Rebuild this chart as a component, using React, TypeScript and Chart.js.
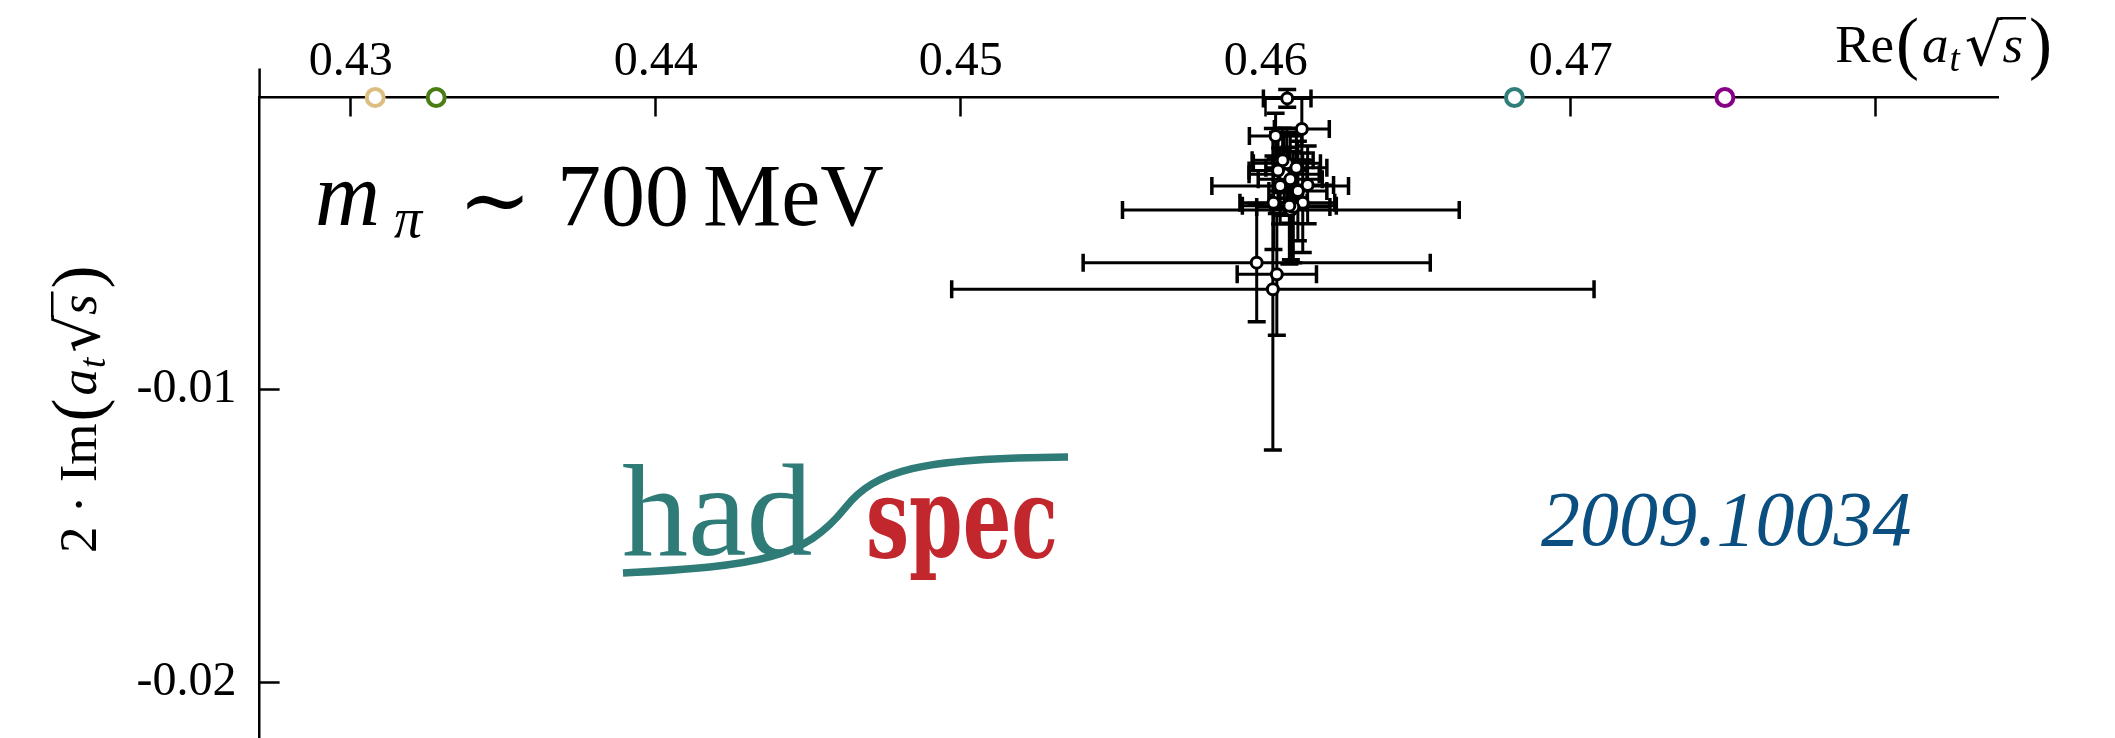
import React, { useEffect, useRef } from "react";
import { Chart, registerables } from "chart.js";

Chart.register(...registerables);

const W = 2115;
const H = 738;

// Finite-volume energy levels: Re and 2·Im of a_t·sqrt(s), with uncertainties
const latticeRe = [
  0.4607, 0.46118, 0.46032, 0.46069, 0.4606, 0.46047, 0.46137, 0.46025, 0.46121, 0.46082,
  0.4609, 0.4597, 0.46036, 0.46023, 0.46055, 0.461, 0.4604, 0.4608, 0.46105, 0.46077,
];
const latticeIm = [
  -0.00003, -0.00108, -0.00132, -0.00225, -0.00263, -0.00303, -0.00299, -0.0036, -0.0036, -0.00385,
  -0.00375, -0.00565, -0.00605, -0.00656, -0.00215, -0.0024, -0.0025, -0.0028, -0.0032, -0.0037,
];
const latticeReErr = [
  0.00078, 0.0009, 0.00086, 0.0011, 0.00115, 0.00224, 0.00085, 0.0011, 0.00105, 0.00552,
  0.0012, 0.00569, 0.0013, 0.01053, 0.001, 0.001, 0.00095, 0.00105, 0.00095, 0.00154,
];
const latticeImErr = [
  0.0003, 0.00106, 0.00078, 0.0012, 0.0014, 0.0013, 0.00133, 0.0016, 0.0017, 0.0017,
  0.0019, 0.00202, 0.00208, 0.0055, 0.0011, 0.0012, 0.0013, 0.0015, 0.0017, 0.002,
];

// Two-hadron thresholds on the real axis
const thresholdRe = [0.4308, 0.4328, 0.46815, 0.47505];
const thresholdColors = ["#dcbe82", "#4a7d14", "#2f7e7a", "#860086"];

const xTickValues = [0.43, 0.44, 0.45, 0.46, 0.47, 0.48];
const xTickLabels = ["0.43", "0.44", "0.45", "0.46", "0.47", ""];
const yTickValues = [-0.02, -0.01];
const yTickLabels = ["-0.02", "-0.01"];

const xMin = 0.42701;
const xMax = 0.48402;
const yMin = -0.021913;
const yMax = 0;

const SERIF = '"Liberation Serif", "DejaVu Serif", serif';

type Run = { t: string; f: string; dy?: number; over?: boolean; gap?: number };

// Draws a sequence of text pieces side by side (simple math typesetting)
function drawRuns(ctx: CanvasRenderingContext2D, runs: Run[], x: number, y: number, measureOnly = false): number {
  let cx = x;
  let radTop = y;
  for (const r of runs) {
    ctx.font = r.f;
    const m = ctx.measureText(r.t);
    const yy = y + (r.dy ?? 0);
    if (r.t === "√") radTop = yy - m.actualBoundingBoxAscent;
    if (!measureOnly) {
      ctx.fillText(r.t, cx, yy);
      if (r.over) ctx.fillRect(cx - 2, radTop, m.width + 5, 2.5);
    }
    cx += m.width + (r.gap ?? 0);
  }
  return cx - x;
}

function atSqrtS(size: number): Run[] {
  const paren = `${Math.round(size * 1.3)}px ${SERIF}`;
  return [
    { t: "(", f: paren, dy: 4, gap: 3 },
    { t: "a", f: `italic ${size}px ${SERIF}`, gap: 1 },
    { t: "t", f: `italic ${Math.round(size * 0.7)}px ${SERIF}`, dy: 9, gap: 5 },
    { t: "√", f: `${Math.round(size * 1.12)}px "DejaVu Serif", serif`, dy: 3 },
    { t: "s", f: `italic ${size}px ${SERIF}`, over: true, gap: 6 },
    { t: ")", f: paren, dy: 4 },
  ];
}

const errorBars = {
  id: "errorBars",
  beforeDatasetsDraw(chart: any) {
    const { ctx } = chart;
    const xs = chart.scales.x;
    const ys = chart.scales.y;
    const cap = 9;
    ctx.save();
    ctx.strokeStyle = "#000";
    ctx.lineCap = "butt";
    for (let i = 0; i < latticeRe.length; i++) {
      const px = xs.getPixelForValue(latticeRe[i]);
      const py = ys.getPixelForValue(latticeIm[i]);
      const x0 = xs.getPixelForValue(latticeRe[i] - latticeReErr[i]);
      const x1 = xs.getPixelForValue(latticeRe[i] + latticeReErr[i]);
      const y0 = ys.getPixelForValue(latticeIm[i] + latticeImErr[i]);
      const y1 = ys.getPixelForValue(latticeIm[i] - latticeImErr[i]);
      ctx.lineWidth = 3;
      ctx.beginPath();
      ctx.moveTo(x0, py);
      ctx.lineTo(x1, py);
      ctx.moveTo(px, y0);
      ctx.lineTo(px, y1);
      ctx.stroke();
      ctx.lineWidth = 3.5;
      ctx.beginPath();
      ctx.moveTo(x0, py - cap);
      ctx.lineTo(x0, py + cap);
      ctx.moveTo(x1, py - cap);
      ctx.lineTo(x1, py + cap);
      ctx.moveTo(px - cap, y0);
      ctx.lineTo(px + cap, y0);
      ctx.moveTo(px - cap, y1);
      ctx.lineTo(px + cap, y1);
      ctx.stroke();
    }
    ctx.restore();
  },
};

const decorations = {
  id: "decorations",
  afterDraw(chart: any) {
    const { ctx } = chart;
    const yScale = chart.scales.y;
    ctx.save();

    // left spine continues a little above the real axis
    ctx.strokeStyle = "#000";
    ctx.lineWidth = 2.5;
    ctx.beginPath();
    ctx.moveTo(yScale.right, yScale.top);
    ctx.lineTo(yScale.right, yScale.top - 29);
    ctx.stroke();

    ctx.fillStyle = "#000";
    ctx.textAlign = "left";
    ctx.textBaseline = "alphabetic";

    // x-axis title, right-aligned at the top
    const reRuns: Run[] = [{ t: "Re", f: `53px ${SERIF}`, gap: 2 }, ...atSqrtS(53)];
    const reW = drawRuns(ctx, reRuns, 0, 0, true);
    drawRuns(ctx, reRuns, 2052 - reW, 62);

    // y-axis title, rotated
    const imRuns: Run[] = [{ t: "2 · Im", f: `53px ${SERIF}`, gap: 2 }, ...atSqrtS(53)];
    ctx.save();
    ctx.translate(96, 553);
    ctx.rotate(-Math.PI / 2);
    drawRuns(ctx, imRuns, 0, 0);
    ctx.restore();

    // pion mass annotation
    ctx.font = `italic 90px ${SERIF}`;
    ctx.fillText("m", 315, 225);
    ctx.font = `italic 56px ${SERIF}`;
    ctx.fillText("π", 394, 237);
    ctx.font = `88px "DejaVu Serif", serif`;
    ctx.fillText("∼", 458, 230);
    ctx.font = `88px ${SERIF}`;
    ctx.fillText("700", 557, 225);
    ctx.fillText("MeV", 703, 225);

    // arXiv reference
    ctx.fillStyle = "#0a4f80";
    ctx.font = `italic 78px ${SERIF}`;
    ctx.fillText("2009.10034", 1541, 545);

    // hadspec logo
    ctx.fillStyle = "#2e7b77";
    ctx.font = `132px ${SERIF}`;
    ctx.fillText("had", 622, 555);

    ctx.fillStyle = "#c1272d";
    ctx.font = `bold 112px "DejaVu Serif", serif`;
    const sw = ctx.measureText("spec").width;
    ctx.save();
    ctx.translate(866, 557);
    ctx.scale(192 / sw, 1);
    ctx.fillText("spec", 0, 0);
    ctx.restore();

    ctx.strokeStyle = "#2e7b77";
    ctx.lineWidth = 7.5;
    ctx.lineCap = "butt";
    ctx.beginPath();
    ctx.moveTo(623, 573);
    ctx.bezierCurveTo(760, 566, 805, 558, 845, 508);
    ctx.bezierCurveTo(875, 470, 920, 458, 1068, 457);
    ctx.stroke();

    ctx.restore();
  },
};

export default function App() {
  const canvasRef = useRef<HTMLCanvasElement | null>(null);

  useEffect(() => {
    const canvas = canvasRef.current;
    if (!canvas) return;
    document.body.style.margin = "0";

    const tickFont = { family: SERIF, size: 48, lineHeight: 1 };

    const chart = new Chart(canvas, {
      type: "scatter",
      data: {
        datasets: [
          {
            data: latticeRe.map((x, i) => ({ x, y: latticeIm[i] })),
            pointRadius: 5.5,
            pointHoverRadius: 5.5,
            pointBorderWidth: 3,
            pointBackgroundColor: "#ffffff",
            pointBorderColor: "#000000",
            clip: false,
          },
          {
            data: thresholdRe.map((x) => ({ x, y: 0 })),
            pointRadius: 8.5,
            pointHoverRadius: 8.5,
            pointBorderWidth: 4,
            pointBackgroundColor: "#ffffff",
            pointBorderColor: thresholdColors,
            clip: false,
          },
        ],
      },
      options: {
        responsive: false,
        devicePixelRatio: 1,
        animation: false,
        events: [],
        layout: { autoPadding: false, padding: { left: 0, top: 0, right: 116.5, bottom: 0 } },
        plugins: { legend: { display: false }, tooltip: { enabled: false } },
        scales: {
          x: {
            type: "linear",
            position: "top",
            min: xMin,
            max: xMax,
            afterBuildTicks: (s: any) => {
              s.ticks = xTickValues.map((v) => ({ value: v }));
            },
            afterFit: (s: any) => {
              s.height = 97.5;
              s.paddingLeft = 0;
              s.paddingRight = 0;
            },
            ticks: {
              autoSkip: false,
              maxRotation: 0,
              padding: 30.5,
              color: "#000",
              font: tickFont,
              callback: (_v: any, i: number) => xTickLabels[i] ?? "",
            },
            grid: {
              drawOnChartArea: false,
              drawTicks: true,
              tickLength: -19,
              tickWidth: 2.5,
              tickColor: "#000",
              color: "#000",
            },
            border: { display: true, color: "#000", width: 2.5 },
          },
          y: {
            type: "linear",
            position: "left",
            min: yMin,
            max: yMax,
            afterBuildTicks: (s: any) => {
              s.ticks = yTickValues.map((v) => ({ value: v }));
            },
            afterFit: (s: any) => {
              s.width = 259.6;
              s.paddingTop = 0;
              s.paddingBottom = 0;
            },
            ticks: {
              autoSkip: false,
              padding: 43,
              color: "#000",
              font: tickFont,
              callback: (_v: any, i: number) => yTickLabels[i] ?? "",
            },
            grid: {
              drawOnChartArea: false,
              drawTicks: true,
              tickLength: -20,
              tickWidth: 2.5,
              tickColor: "#000",
              color: "#000",
            },
            border: { display: true, color: "#000", width: 2.5 },
          },
        },
      },
      plugins: [errorBars, decorations],
    } as any);

    return () => chart.destroy();
  }, []);

  return (
    <div style={{ position: "absolute", left: 0, top: 0, width: W, height: H, background: "#ffffff" }}>
      <canvas ref={canvasRef} width={W} height={H} style={{ display: "block", width: W, height: H }} />
    </div>
  );
}
